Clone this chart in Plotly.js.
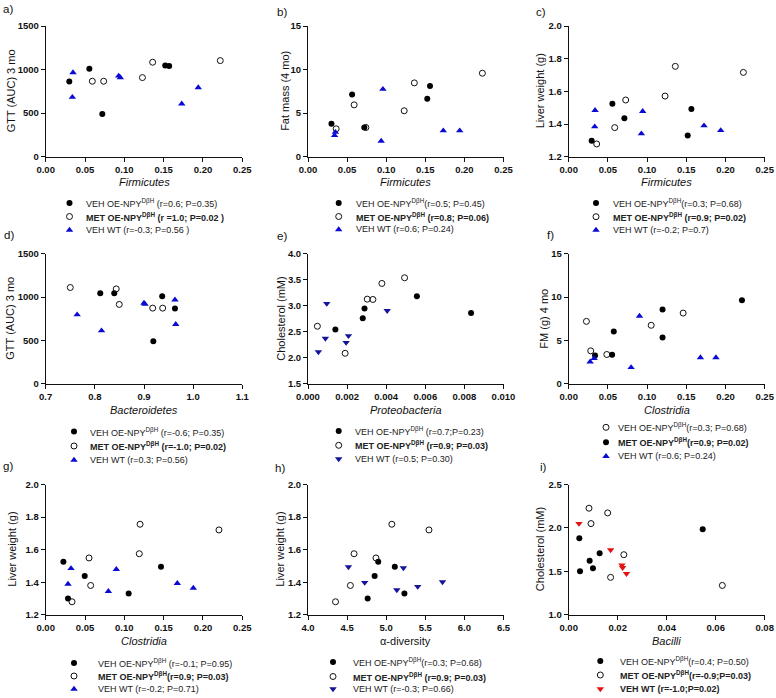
<!DOCTYPE html>
<html>
<head>
<meta charset="utf-8">
<script src="https://cdn.plot.ly/plotly-3.0.1.min.js"></script>
<style>html,body{margin:0;padding:0;background:#fff;}#chart{width:776px;height:698px;}</style>
</head>
<body>
<div id="chart"></div>
<script>
// ---------------- DATA ----------------
// a) GTT (AUC) 3 mo vs Firmicutes
const a_veh_x=[0.030,0.0555,0.072,0.152,0.157], a_veh_y=[862,1008,489,1046,1040];
const a_met_x=[0.0593,0.0737,0.123,0.136,0.222], a_met_y=[866,866,908,1084,1103];
const a_wt_x=[0.0347,0.0339,0.0928,0.0949,0.173,0.194], a_wt_y=[966,683,927,908,607,794];
// b) Fat mass (4 mo) vs Firmicutes
const b_veh_x=[0.030,0.0564,0.072,0.1525,0.156], b_veh_y=[3.78,7.14,3.35,6.64,8.1];
const b_met_x=[0.036,0.059,0.074,0.123,0.136,0.223], b_met_y=[3.2,5.95,3.35,5.27,8.47,9.58];
const b_wt_x=[0.034,0.035,0.0936,0.0958,0.173,0.194], b_wt_y=[2.44,2.82,1.8,7.75,2.98,2.98];
// c) Liver weight vs Firmicutes
const c_veh_x=[0.0293,0.0557,0.071,0.1518,0.1565], c_veh_y=[1.298,1.524,1.435,1.329,1.492];
const c_met_x=[0.0357,0.0587,0.0727,0.1229,0.136,0.2228], c_met_y=[1.278,1.378,1.547,1.571,1.753,1.716];
const c_wt_x=[0.0336,0.0332,0.0944,0.0927,0.1726,0.1939], c_wt_y=[1.484,1.384,1.478,1.341,1.39,1.361];
// d) GTT (AUC) 3 mo vs Bacteroidetes
const d_veh_x=[0.811,0.8395,0.937,0.919,0.963], d_veh_y=[1045,1045,1010,490,869];
const d_met_x=[0.750,0.8435,0.8497,0.9177,0.938], d_met_y=[1110,1094,915,872,872];
const d_wt_x=[0.764,0.8136,0.900,0.902,0.963,0.9646], d_wt_y=[796,612,930,918,968,685];
// e) Cholesterol vs Proteobacteria
const e_veh_x=[0.0014,0.0028,0.00289,0.00557,0.00834], e_veh_y=[2.54,2.76,2.946,3.184,2.862];
const e_met_x=[0.00048,0.0019,0.00303,0.00332,0.00378,0.00494], e_met_y=[2.605,2.085,3.126,3.12,3.428,3.537];
const e_wt_x=[0.00053,0.00089,0.00096,0.00195,0.00207,0.00405], e_wt_y=[2.11,2.37,3.04,2.29,2.42,2.905];
// f) FM (g) 4 mo vs Clostridia (open = VEH, filled = MET)
const f_veh_x=[0.0226,0.0281,0.0486,0.1052,0.146], f_veh_y=[7.19,3.79,3.37,6.74,8.15];
const f_met_x=[0.0336,0.0554,0.0575,0.1197,0.1197,0.221], f_met_y=[3.25,3.33,6.01,8.57,5.32,9.64];
const f_wt_x=[0.0273,0.0324,0.0796,0.0903,0.168,0.1878], f_wt_y=[2.53,2.91,1.88,7.81,3.02,3.02];
// g) Liver weight vs Clostridia
const g_veh_x=[0.0225,0.0284,0.0496,0.1055,0.1466], g_veh_y=[1.526,1.30,1.438,1.331,1.495];
const g_met_x=[0.0335,0.0551,0.0572,0.119,0.12,0.2203], g_met_y=[1.28,1.549,1.38,1.575,1.756,1.721];
const g_wt_x=[0.0284,0.0322,0.0797,0.0898,0.1674,0.1877], g_wt_y=[1.389,1.485,1.344,1.479,1.393,1.364];
// h) Liver weight vs alpha-diversity
const h_veh_x=[4.763,4.852,4.898,5.11,5.233], h_veh_y=[1.30,1.438,1.526,1.495,1.331];
const h_met_x=[4.352,4.542,4.589,4.869,5.072,5.547], h_met_y=[1.28,1.38,1.575,1.549,1.756,1.721];
const h_wt_x=[4.517,4.725,5.136,5.22,5.403,5.72], h_wt_y=[1.494,1.398,1.353,1.488,1.373,1.402];
// i) Cholesterol vs Bacilli
const i_veh_x=[0.00434,0.00462,0.00855,0.0099,0.01263,0.0547], i_veh_y=[1.881,1.5,1.623,1.535,1.708,1.985];
const i_met_x=[0.00828,0.0091,0.0159,0.0171,0.0225,0.0627], i_met_y=[2.227,2.05,2.173,1.431,1.692,1.338];
const i_wt_x=[0.0042,0.0171,0.0217,0.022,0.0236], i_wt_y=[2.05,1.746,1.573,1.542,1.473];

// tick values
const ticksFirm=[0,0.05,0.10,0.15,0.20,0.25];
const ticksBact=[0.7,0.8,0.9,1.0,1.1];
const ticksProt=[0,0.002,0.004,0.006,0.008,0.010];
const ticksAlpha=[4.0,4.5,5.0,5.5,6.0,6.5];
const ticksBac=[0,0.02,0.04,0.06,0.08];
const ticksGTT=[0,500,1000,1500];
const ticksFat=[0,5,10,15];
const ticksLiver=[1.2,1.4,1.6,1.8,2.0];
const ticksChol1=[1.5,2.0,2.5,3.0,3.5,4.0];
const ticksChol2=[1.0,1.5,2.0,2.5];

// legend texts
const SUP='<sup>D\u03B2H</sup>';
const legA=['VEH OE-NPY'+SUP+' (r=0.6; P=0.35)','<b>MET OE-NPY'+SUP+' (r =1.0; P=0.02 )</b>','VEH WT (r=-0.3; P=0.56 )'];
const legB=['VEH OE-NPY'+SUP+'(r=0.5; P=0.45)','<b>MET OE-NPY'+SUP+' (r=0.8; P=0.06)</b>','VEH WT (r=0.6; P=0.24)'];
const legC=['VEH OE-NPY'+SUP+'(r=0.3; P=0.68)','<b>MET OE-NPY'+SUP+' (r=0.9; P=0.02)</b>','VEH WT (r=-0.2; P=0.7)'];
const legD=['VEH OE-NPY'+SUP+' (r=-0.6; P=0.35)','<b>MET OE-NPY'+SUP+' (r=-1.0; P=0.02)</b>','VEH WT (r=0.3; P=0.56)'];
const legE=['VEH OE-NPY'+SUP+' (r=0.7;P=0.23)','<b>MET OE-NPY'+SUP+' (r=0.9; P=0.03)</b>','VEH WT (r=0.5; P=0.30)'];
const legF=['VEH OE-NPY'+SUP+'(r=0.3; P=0.68)','<b>MET OE-NPY'+SUP+'(r=0.9; P=0.02)</b>','VEH WT (r=0.6; P=0.24)'];
const legG=['VEH OE-NPY'+SUP+' (r=-0.1; P=0.95)','<b>MET OE-NPY'+SUP+'(r=0.9; P=0.03)</b>','VEH WT (r=-0.2; P=0.71)'];
const legH=['VEH OE-NPY'+SUP+'(r=0.3; P=0.68)','<b>MET OE-NPY'+SUP+' (r=0.9; P=0.03)</b>','VEH WT (r=-0.3; P=0.66)'];
const legI=['VEH OE-NPY'+SUP+'(r=0.4; P=0.50)','<b>MET OE-NPY'+SUP+'(r=-0.9;P=0.03)</b>','<b>VEH WT (r=-1.0;P=0.02)</b>'];

// ---------------- STYLE / LAYOUT ----------------
const W=776,H=698;
const FONT='"Liberation Sans", Arial, Helvetica, sans-serif';
const px=v=>v/W, py=v=>1-v/H;
const BLUE='#0A0AD2', NAVY='#14149A', RED='#E01414';
const S_fill={symbol:'circle',size:6,color:'#000'};
const S_open={symbol:'circle-open',size:6,color:'#111',line:{width:1,color:'#111'}};
const S_up={symbol:'triangle-up',size:6.5,color:BLUE};
const S_dnN={symbol:'triangle-down',size:6.5,color:NAVY};
const S_dnR={symbol:'triangle-down',size:6.5,color:RED};

const cols=[[45.7,242.3],[308,503.5],[568.7,764.7]];
const rows=[[26,156.7],[253.7,383.7],[484.5,614.8]];

const panels=[
 {lab:'a)',labPos:[1,8.5],c:0,r:0,xr:[0,0.25],xt:ticksFirm,xd:2,yr:[0,1500],yt:ticksGTT,yd:0,
  xtitle:'<i>Firmicutes</i>',ytitle:'GTT (AUC) 3 mo',ytx:11,
  ser:[[a_veh_x,a_veh_y,S_fill],[a_met_x,a_met_y,S_open],[a_wt_x,a_wt_y,S_up]],
  leg:legA,lm:69.5,lt:84,ly:[203,216.5,230]},
 {lab:'b)',labPos:[274.5,11.5],c:1,r:0,xr:[0,0.25],xt:ticksFirm,xd:2,yr:[0,15],yt:ticksFat,yd:0,
  xtitle:'<i>Firmicutes</i>',ytitle:'Fat mass (4 mo)',ytx:285.5,
  ser:[[b_veh_x,b_veh_y,S_fill],[b_met_x,b_met_y,S_open],[b_wt_x,b_wt_y,S_up]],
  leg:legB,lm:338.7,lt:353.7,ly:[203,216.5,229.5]},
 {lab:'c)',labPos:[534,11.5],c:2,r:0,xr:[0,0.25],xt:ticksFirm,xd:2,yr:[1.2,2.0],yt:ticksLiver,yd:1,
  xtitle:'<i>Firmicutes</i>',ytitle:'Liver weight (g)',ytx:540,
  ser:[[c_veh_x,c_veh_y,S_fill],[c_met_x,c_met_y,S_open],[c_wt_x,c_wt_y,S_up]],
  leg:legC,lm:596,lt:610.5,ly:[203,216.7,230]},
 {lab:'d)',labPos:[1.5,235.5],c:0,r:1,xr:[0.7,1.1],xt:ticksBact,xd:1,yr:[0,1500],yt:ticksGTT,yd:0,
  xtitle:'<i>Bacteroidetes</i>',ytitle:'GTT (AUC) 3 mo',ytx:10,
  ser:[[d_veh_x,d_veh_y,S_fill],[d_met_x,d_met_y,S_open],[d_wt_x,d_wt_y,S_up]],
  leg:legD,lm:74,lt:88.3,ly:[431.5,446,460]},
 {lab:'e)',labPos:[274.5,235.7],c:1,r:1,xr:[0,0.010],xt:ticksProt,xd:3,yr:[1.5,4.0],yt:ticksChol1,yd:1,
  xtitle:'<i>Proteobacteria</i>',ytitle:'Cholesterol (mM)',ytx:281,
  ser:[[e_veh_x,e_veh_y,S_fill],[e_met_x,e_met_y,S_open],[e_wt_x,e_wt_y,S_dnN]],
  leg:legE,lm:338.7,lt:353,ly:[431,445.3,459]},
 {lab:'f)',labPos:[545,234.7],c:2,r:1,xr:[0,0.25],xt:ticksFirm,xd:2,yr:[0,15],yt:ticksFat,yd:0,
  xtitle:'<i>Clostridia</i>',ytitle:'FM (g) 4 mo',ytx:544,
  ser:[[f_veh_x,f_veh_y,S_open],[f_met_x,f_met_y,S_fill],[f_wt_x,f_wt_y,S_up]],
  leg:legF,lm:606,lt:615.5,ly:[427.3,442.3,456.3]},
 {lab:'g)',labPos:[1,466],c:0,r:2,xr:[0,0.25],xt:ticksFirm,xd:2,yr:[1.2,2.0],yt:ticksLiver,yd:1,
  xtitle:'<i>Clostridia</i>',ytitle:'Liver weight (g)',ytx:12,
  ser:[[g_veh_x,g_veh_y,S_fill],[g_met_x,g_met_y,S_open],[g_wt_x,g_wt_y,S_up]],
  leg:legG,lm:74,lt:95.7,ly:[663,676,689]},
 {lab:'h)',labPos:[273,468],c:1,r:2,xr:[4.0,6.5],xt:ticksAlpha,xd:1,yr:[1.2,2.0],yt:ticksLiver,yd:1,
  xtitle:'\u03B1-diversity',ytitle:'Liver weight (g)',ytx:280,
  ser:[[h_veh_x,h_veh_y,S_fill],[h_met_x,h_met_y,S_open],[h_wt_x,h_wt_y,S_dnN]],
  leg:legH,lm:333,lt:351.3,ly:[662,676.5,689]},
 {lab:'i)',labPos:[537.5,467],c:2,r:2,xr:[0,0.08],xt:ticksBac,xd:2,yr:[1.0,2.5],yt:ticksChol2,yd:1,
  xtitle:'<i>Bacilli</i>',ytitle:'Cholesterol (mM)',ytx:539.5,
  ser:[[i_veh_x,i_veh_y,S_fill],[i_met_x,i_met_y,S_open],[i_wt_x,i_wt_y,S_dnR]],
  leg:legI,lm:600.3,lt:617.7,ly:[661,675,689]}
];

const layout={width:W,height:H,margin:{l:0,r:0,t:0,b:0},paper_bgcolor:'#fff',plot_bgcolor:'rgba(0,0,0,0)',
  showlegend:false,font:{family:FONT,color:'#111'},annotations:[]};
const data=[];
const tickFont={family:FONT,size:9.5,color:'#111',weight:'bold'};

panels.forEach((p,k)=>{
  const n=k+1, xs=n===1?'':n, xa='xaxis'+xs, ya='yaxis'+xs;
  const [x0,x1]=cols[p.c], [y0,y1]=rows[p.r];
  layout[xa]={domain:[px(x0),px(x1)],range:p.xr,anchor:'y'+xs,tickvals:p.xt,ticktext:p.xt.map(v=>v.toFixed(p.xd)),
    showline:true,linecolor:'#111',linewidth:1,ticks:'outside',ticklen:4,tickwidth:1,tickcolor:'#111',
    showgrid:false,zeroline:false,tickfont:tickFont,fixedrange:true};
  layout[ya]={domain:[py(y1),py(y0)],range:p.yr,anchor:'x'+xs,tickvals:p.yt,ticktext:p.yt.map(v=>v.toFixed(p.yd)),
    showline:true,linecolor:'#111',linewidth:1,ticks:'outside',ticklen:4,tickwidth:1,tickcolor:'#111',
    showgrid:false,zeroline:false,tickfont:tickFont,fixedrange:true};
  p.ser.forEach(s=>{
    data.push({type:'scatter',mode:'markers',x:s[0],y:s[1],xaxis:'x'+xs,yaxis:'y'+xs,marker:s[2],cliponaxis:false,hoverinfo:'skip'});
  });
  // panel label
  layout.annotations.push({xref:'paper',yref:'paper',x:px(p.labPos[0]),y:py(p.labPos[1]),xanchor:'left',yanchor:'middle',
    text:p.lab,showarrow:false,font:{family:FONT,size:11.5,color:'#111'}});
  // axis titles
  layout.annotations.push({xref:'paper',yref:'paper',x:px((x0+x1)/2),y:py({0:181.7,1:409.5,2:641.3}[p.r]),xanchor:'center',yanchor:'middle',
    text:p.xtitle,showarrow:false,font:{family:FONT,size:11,color:'#111'}});
  layout.annotations.push({xref:'paper',yref:'paper',x:px(p.ytx),y:py((y0+y1)/2),xanchor:'center',yanchor:'middle',textangle:-90,
    text:p.ytitle,showarrow:false,font:{family:FONT,size:11,color:'#111'}});
  // legend
  p.leg.forEach((t,j)=>{
    layout.annotations.push({xref:'paper',yref:'paper',x:px(p.lt),y:py(p.ly[j]),xanchor:'left',yanchor:'middle',
      text:t,showarrow:false,font:{family:FONT,size:9,color:'#222'}});
    data.push({type:'scatter',mode:'markers',x:[p.lm],y:[p.ly[j]],xaxis:'x10',yaxis:'y10',marker:p.ser[j][2],cliponaxis:false,hoverinfo:'skip'});
  });
});
layout.xaxis10={domain:[0,1],range:[0,W],anchor:'y10',visible:false,fixedrange:true};
layout.yaxis10={domain:[0,1],range:[H,0],anchor:'x10',visible:false,fixedrange:true};

Plotly.newPlot('chart',data,layout,{staticPlot:true,displayModeBar:false});
</script>
</body>
</html>
